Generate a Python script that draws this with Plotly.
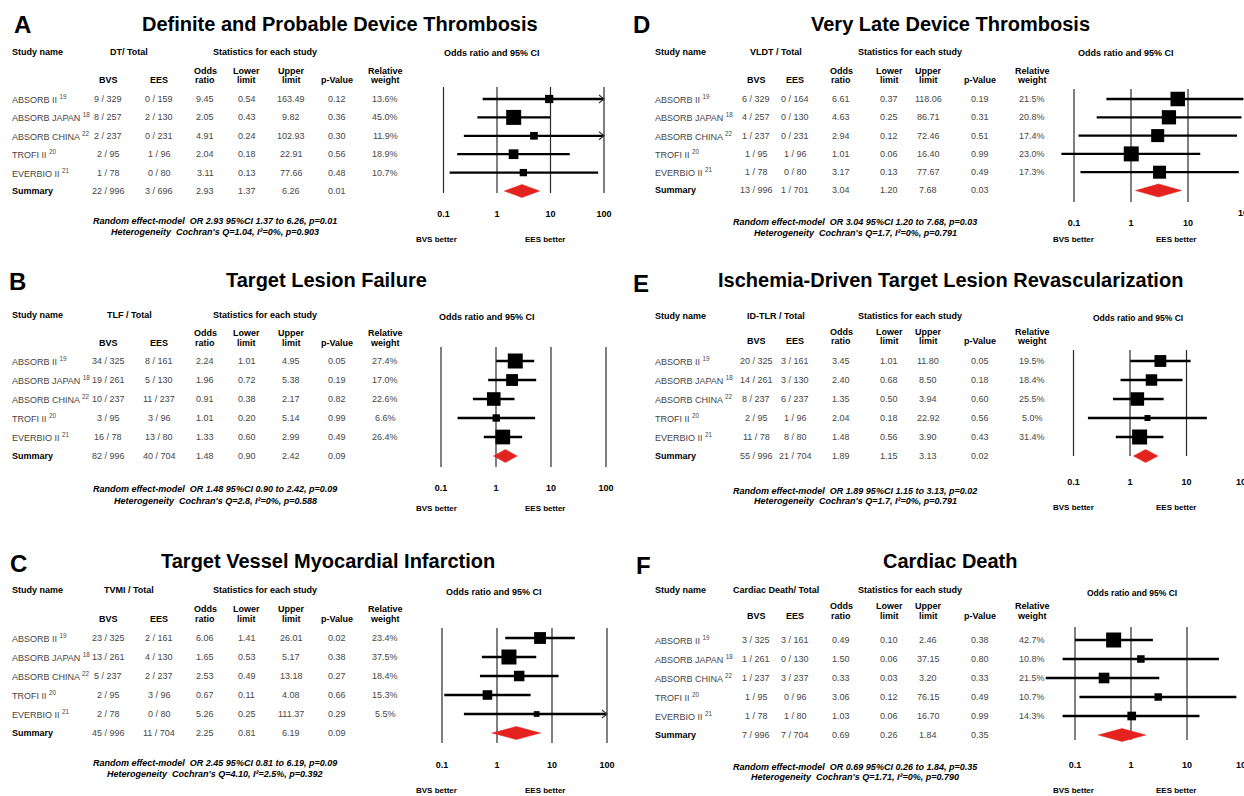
import math
import plotly.graph_objects as go

W, H = 1244, 796
FONT = "Liberation Sans, Arial, Helvetica, sans-serif"

# ------------------------------------------------------------------ data
studies = ["ABSORB II", "ABSORB JAPAN", "ABSORB CHINA", "TROFI II", "EVERBIO II"]
study_refs = ["19", "18", "22", "20", "21"]

# last element of each list = Summary row
a_title = "Definite and Probable Device Thrombosis"
a_events = "DT/ Total"
a_bvs = ["9 / 329", "8 / 257", "2 / 237", "2 / 95", "1 / 78", "22 / 996"]
a_ees = ["0 / 159", "2 / 130", "0 / 231", "1 / 96", "0 / 80", "3 / 696"]
a_or = [9.45, 2.05, 4.91, 2.04, 3.11, 2.93]
a_lo = [0.54, 0.43, 0.24, 0.18, 0.13, 1.37]
a_hi = [163.49, 9.82, 102.93, 22.91, 77.66, 6.26]
a_p = [0.12, 0.36, 0.30, 0.56, 0.48, 0.01]
a_wt = [13.6, 45.0, 11.9, 18.9, 10.7]
a_model = "Random effect-model\u00a0 OR 2.93 95%CI 1.37 to 6.26, p=0.01"
a_het = "Heterogeneity\u00a0 Cochran's Q=1.04, I²=0%, p=0.903"

b_title = "Target Lesion Failure"
b_events = "TLF / Total"
b_bvs = ["34 / 325", "19 / 261", "10 / 237", "3 / 95", "16 / 78", "82 / 996"]
b_ees = ["8 / 161", "5 / 130", "11 / 237", "3 / 96", "13 / 80", "40 / 704"]
b_or = [2.24, 1.96, 0.91, 1.01, 1.33, 1.48]
b_lo = [1.01, 0.72, 0.38, 0.20, 0.60, 0.90]
b_hi = [4.95, 5.38, 2.17, 5.14, 2.99, 2.42]
b_p = [0.05, 0.19, 0.82, 0.99, 0.49, 0.09]
b_wt = [27.4, 17.0, 22.6, 6.6, 26.4]
b_model = "Random effect-model\u00a0 OR 1.48 95%CI 0.90 to 2.42, p=0.09"
b_het = "Heterogeneity\u00a0 Cochran's Q=2.8, I²=0%, p=0.588"

c_title = "Target Vessel Myocardial Infarction"
c_events = "TVMI / Total"
c_bvs = ["23 / 325", "13 / 261", "5 / 237", "2 / 95", "2 / 78", "45 / 996"]
c_ees = ["2 / 161", "4 / 130", "2 / 237", "3 / 96", "0 / 80", "11 / 704"]
c_or = [6.06, 1.65, 2.53, 0.67, 5.26, 2.25]
c_lo = [1.41, 0.53, 0.49, 0.11, 0.25, 0.81]
c_hi = [26.01, 5.17, 13.18, 4.08, 111.37, 6.19]
c_p = [0.02, 0.38, 0.27, 0.66, 0.29, 0.09]
c_wt = [23.4, 37.5, 18.4, 15.3, 5.5]
c_model = "Random effect-model\u00a0 OR 2.45 95%CI 0.81 to 6.19, p=0.09"
c_het = "Heterogeneity\u00a0 Cochran's Q=4.10, I²=2.5%, p=0.392"

d_title = "Very Late Device Thrombosis"
d_events = "VLDT / Total"
d_bvs = ["6 / 329", "4 / 257", "1 / 237", "1 / 95", "1 / 78", "13 / 996"]
d_ees = ["0 / 164", "0 / 130", "0 / 231", "1 / 96", "0 / 80", "1 / 701"]
d_or = [6.61, 4.63, 2.94, 1.01, 3.17, 3.04]
d_lo = [0.37, 0.25, 0.12, 0.06, 0.13, 1.20]
d_hi = [118.06, 86.71, 72.46, 16.40, 77.67, 7.68]
d_p = [0.19, 0.31, 0.51, 0.99, 0.49, 0.03]
d_wt = [21.5, 20.8, 17.4, 23.0, 17.3]
d_model = "Random effect-model\u00a0 OR 3.04 95%CI 1.20 to 7.68, p=0.03"
d_het = "Heterogeneity\u00a0 Cochran's Q=1.7, I²=0%, p=0.791"

e_title = "Ischemia-Driven Target Lesion Revascularization"
e_events = "ID-TLR / Total"
e_bvs = ["20 / 325", "14 / 261", "8 / 237", "2 / 95", "11 / 78", "55 / 996"]
e_ees = ["3 / 161", "3 / 130", "6 / 237", "1 / 96", "8 / 80", "21 / 704"]
e_or = [3.45, 2.40, 1.35, 2.04, 1.48, 1.89]
e_lo = [1.01, 0.68, 0.50, 0.18, 0.56, 1.15]
e_hi = [11.80, 8.50, 3.94, 22.92, 3.90, 3.13]
e_p = [0.05, 0.18, 0.60, 0.56, 0.43, 0.02]
e_wt = [19.5, 18.4, 25.5, 5.0, 31.4]
e_model = "Random effect-model\u00a0 OR 1.89 95%CI 1.15 to 3.13, p=0.02"
e_het = "Heterogeneity\u00a0 Cochran's Q=1.7, I²=0%, p=0.791"

f_title = "Cardiac Death"
f_events = "Cardiac Death/ Total"
f_bvs = ["3 / 325", "1 / 261", "1 / 237", "1 / 95", "1 / 78", "7 / 996"]
f_ees = ["3 / 161", "0 / 130", "3 / 237", "0 / 96", "1 / 80", "7 / 704"]
f_or = [0.49, 1.50, 0.33, 3.06, 1.03, 0.69]
f_lo = [0.10, 0.06, 0.03, 0.12, 0.06, 0.26]
f_hi = [2.46, 37.15, 3.20, 76.15, 16.70, 1.84]
f_p = [0.38, 0.80, 0.33, 0.49, 0.99, 0.35]
f_wt = [42.7, 10.8, 21.5, 10.7, 14.3]
f_model = "Random effect-model\u00a0 OR 0.69 95%CI 0.26 to 1.84, p=0.35"
f_het = "Heterogeneity\u00a0 Cochran's Q=1.71, I²=0%, p=0.790"

tick_vals = [0.1, 1, 10, 100]
tick_text = ["0.1", "1", "10", "100"]

# ------------------------------------------------------------------ layout geometry (pixels)
LEFT = dict(study_x=10, tot_x=129, stat_x=265, cols=[108, 159, 205, 247, 291, 337, 385],
            foot_x=215, bvs_x=436, ees_x=545, right_col=False)
RIGHT = dict(study_x=653, tot_x=776, stat_x=910, cols=[756, 795, 841, 889, 928, 980, 1032],
             foot_x=855, bvs_x=1073, ees_x=1176, right_col=True)

panels = [
    dict(letter="A", title=a_title, events=a_events, bvs=a_bvs, ees=a_ees, orr=a_or, lo=a_lo, hi=a_hi,
         p=a_p, wt=a_wt, model=a_model, het=a_het, col=LEFT,
         p1=497, k=53.5, row0=99, dy=18.4, gtop=87, gbot=193, tick_y=213, better_y=240,
         ci_x=492, ci_y=53, head_y=52, sub1=71, sub2=80, foot1=221, foot2=232,
         title_x=340, title_y=24, letter_x=22, letter_y=25),
    dict(letter="B", title=b_title, events=b_events, bvs=b_bvs, ees=b_ees, orr=b_or, lo=b_lo, hi=b_hi,
         p=b_p, wt=b_wt, model=b_model, het=b_het, col=LEFT,
         p1=496, k=55, row0=361, dy=19, gtop=347, gbot=467, tick_y=482, better_y=508,
         ci_x=487, ci_y=317, head_y=315, sub1=333, sub2=343, foot1=489, foot2=501,
         title_x=326, title_y=280, letter_x=17, letter_y=282),
    dict(letter="C", title=c_title, events=c_events, bvs=c_bvs, ees=c_ees, orr=c_or, lo=c_lo, hi=c_hi,
         p=c_p, wt=c_wt, model=c_model, het=c_het, col=LEFT,
         p1=497, k=55, row0=638, dy=19, gtop=628, gbot=743, tick_y=765, better_y=790,
         ci_x=494, ci_y=592, head_y=590, sub1=609, sub2=619, foot1=763, foot2=774,
         title_x=328, title_y=561, letter_x=18, letter_y=563),
    dict(letter="D", title=d_title, events=d_events, bvs=d_bvs, ees=d_ees, orr=d_or, lo=d_lo, hi=d_hi,
         p=d_p, wt=d_wt, model=d_model, het=d_het, col=RIGHT,
         p1=1131, k=57, row0=99, dy=18.3, gtop=89, gbot=202, tick_y=213, better_y=240,
         ci_x=1126, ci_y=53, head_y=52, sub1=71, sub2=80, foot1=222, foot2=233,
         title_x=950, title_y=24, letter_x=642, letter_y=25),
    dict(letter="E", title=e_title, events=e_events, bvs=e_bvs, ees=e_ees, orr=e_or, lo=e_lo, hi=e_hi,
         p=e_p, wt=e_wt, model=e_model, het=e_het, col=RIGHT,
         p1=1130, k=56.5, row0=361, dy=19, gtop=350, gbot=456, tick_y=482, better_y=507,
         ci_x=1138, ci_y=318, head_y=316, sub1=332, sub2=341, foot1=491, foot2=501,
         title_x=950, title_y=280, letter_x=641, letter_y=283),
    dict(letter="F", title=f_title, events=f_events, bvs=f_bvs, ees=f_ees, orr=f_or, lo=f_lo, hi=f_hi,
         p=f_p, wt=f_wt, model=f_model, het=f_het, col=RIGHT,
         p1=1131, k=56, row0=640, dy=19, gtop=627, gbot=740, tick_y=765, better_y=790,
         ci_x=1132, ci_y=593, head_y=590, sub1=606, sub2=616, foot1=767, foot2=777,
         title_x=950, title_y=561, letter_x=643, letter_y=565),
]

BOX_MAX = 15.0
DIAMOND_HALF = 6.5
RED = "#e4221f"
ROW_COLOR = "#464646"
PAD_TOP, PAD_BOT = 6, 12   # extra plot-area room beyond the reference lines

annotations = []


def X(px):
    return px / W


def Y(py):
    return 1 - py / H


def txt(s, x, y, size=9, color="#000", xanchor="center", yanchor="middle"):
    annotations.append(dict(text=s, x=X(x), y=Y(y), xref="paper", yref="paper",
                            showarrow=False, xanchor=xanchor, yanchor=yanchor,
                            font=dict(family=FONT, size=size, color=color)))


fig = go.Figure()
layout_axes = {}

for n, P in enumerate(panels, start=1):
    C = P["col"]
    cols = C["cols"]
    xa = "x" if n == 1 else f"x{n}"
    ya = "y" if n == 1 else f"y{n}"

    # ---- titles
    txt(f"<b>{P['letter']}</b>", P["letter_x"], P["letter_y"], size=24)
    txt(f"<b>{P['title']}</b>", P["title_x"], P["title_y"], size=20)

    # ---- table header
    txt("<b>Study name</b>", C["study_x"], P["head_y"], xanchor="left")
    txt(f"<b>{P['events']}</b>", C["tot_x"], P["head_y"])
    txt("<b>Statistics for each study</b>", C["stat_x"], P["head_y"])
    txt("<b>BVS</b>", cols[0], P["sub2"])
    txt("<b>EES</b>", cols[1], P["sub2"])
    for ci, (l1, l2) in zip([2, 3, 4, 6], [("Odds", "ratio"), ("Lower", "limit"),
                                             ("Upper", "limit"), ("Relative", "weight")]):
        txt(f"<b>{l1}</b>", cols[ci], P["sub1"])
        txt(f"<b>{l2}</b>", cols[ci], P["sub2"])
    txt("<b>p-Value</b>", cols[5], P["sub2"])

    # ---- table rows
    for j in range(6):
        y = P["row0"] + j * P["dy"]
        if j < 5:
            txt(f"{studies[j]} <sup>{study_refs[j]}</sup>", C["study_x"], y,
                color=ROW_COLOR, xanchor="left")
        else:
            txt("<b>Summary</b>", C["study_x"], y, xanchor="left")
        vals = [P["bvs"][j], P["ees"][j], f"{P['orr'][j]:.2f}", f"{P['lo'][j]:.2f}",
                f"{P['hi'][j]:.2f}", f"{P['p'][j]:.2f}"]
        if j < 5:
            vals.append(f"{P['wt'][j]:.1f}%")
        for ci, v in enumerate(vals):
            txt(v, cols[ci], y, color=ROW_COLOR)

    # ---- footnotes
    txt(f"<b><i>{P['model']}</i></b>", C["foot_x"], P["foot1"], size=9)
    txt(f"<b><i>{P['het']}</i></b>", C["foot_x"], P["foot2"], size=9)

    # ---- forest plot axes
    p1, k = P["p1"], P["k"]
    if C["right_col"]:
        xlo = -1.6
        xhi = (W - p1) / k - 0.01
        tv = tick_vals[:3]
        tt = tick_text[:3]
        clip = None
    else:
        xlo, xhi = -1.5, 2.25
        tv = tick_vals
        tt = tick_text
        clip = 100.0
    dom_l = max(0.0, (p1 + xlo * k) / W)
    dom_r = min(1.0, (p1 + xhi * k) / W)

    row0, dy = P["row0"], P["dy"]
    ax_top_px = P["gtop"] - PAD_TOP
    ax_bot_px = P["gbot"] + PAD_BOT
    v_top = (ax_top_px - row0) / dy
    v_bot = (ax_bot_px - row0) / dy
    line_top = (P["gtop"] - row0) / dy
    line_bot = (P["gbot"] - row0) / dy

    ticklen = max(0, P["tick_y"] - ax_bot_px - 9)
    layout_axes["xaxis" if n == 1 else f"xaxis{n}"] = dict(
        type="log", domain=[dom_l, dom_r], range=[xlo, xhi], anchor=ya,
        tickvals=tv, ticktext=[f"<b>{t}</b>" for t in tt],
        tickfont=dict(family=FONT, size=9, color="#000"),
        showgrid=False, zeroline=False, showline=False,
        ticks="outside", ticklen=ticklen, tickcolor="rgba(0,0,0,0)", fixedrange=True)
    layout_axes["yaxis" if n == 1 else f"yaxis{n}"] = dict(
        domain=[Y(ax_bot_px), Y(ax_top_px)], range=[v_bot, v_top], anchor=xa,
        visible=False, fixedrange=True)

    # vertical reference lines at the tick values
    vx, vy = [], []
    for t in tv:
        vx += [t, t, None]
        vy += [line_top, line_bot, None]
    fig.add_trace(go.Scatter(x=vx, y=vy, xaxis=xa, yaxis=ya, mode="lines",
                             line=dict(color="#2a2a2a", width=1.2), hoverinfo="skip"))

    # CI lines
    lx, ly, ax_, ay_ = [], [], [], []
    for j in range(5):
        hi = P["hi"][j]
        if clip is not None and hi > clip:
            back = clip / (10 ** (5.0 / k))
            d = 4.0 / dy
            ax_ += [back, clip, back, None]
            ay_ += [j - d, j, j + d, None]
            hi = clip
        lx += [P["lo"][j], hi, None]
        ly += [j, j, None]
    fig.add_trace(go.Scatter(x=lx, y=ly, xaxis=xa, yaxis=ya, mode="lines",
                             line=dict(color="#000", width=2.3), hoverinfo="skip"))
    if ax_:
        fig.add_trace(go.Scatter(x=ax_, y=ay_, xaxis=xa, yaxis=ya, mode="lines",
                                 line=dict(color="#333", width=1.1), hoverinfo="skip"))
    # boxes
    wmax = max(P["wt"])
    sizes = [BOX_MAX * math.sqrt(w / wmax) for w in P["wt"]]
    fig.add_trace(go.Scatter(x=P["orr"][:5], y=list(range(5)), xaxis=xa, yaxis=ya,
                             mode="markers", cliponaxis=False,
                             marker=dict(symbol="square", size=sizes, color="#000", opacity=1,
                                         line=dict(width=0)), hoverinfo="skip"))
    # summary diamond
    h = DIAMOND_HALF / dy
    fig.add_trace(go.Scatter(x=[P["lo"][5], P["orr"][5], P["hi"][5], P["orr"][5], P["lo"][5]],
                             y=[5, 5 - h, 5, 5 + h, 5], xaxis=xa, yaxis=ya,
                             mode="lines", fill="toself", fillcolor=RED,
                             line=dict(color=RED, width=0.5), hoverinfo="skip"))

    # forest labels
    txt("<b>Odds ratio and 95% CI</b>", P["ci_x"], P["ci_y"],
        size=9 if (not C["right_col"] or n == 4) else 8.5)
    txt("<b>BVS better</b>", C["bvs_x"], P["better_y"], size=8)
    txt("<b>EES better</b>", C["ees_x"], P["better_y"], size=8)
    if C["right_col"]:
        txt(f"<b>{tick_text[3]}</b>", p1 + 2 * k, P["tick_y"], size=9)

fig.update_layout(
    width=W, height=H, margin=dict(l=0, r=0, t=0, b=0),
    paper_bgcolor="white", plot_bgcolor="white",
    showlegend=False, hovermode=False,
    annotations=annotations, **layout_axes)

fig.write_html("out.html", config={"displayModeBar": False},
               post_script="document.body.style.margin='0';document.body.style.padding='0';")
